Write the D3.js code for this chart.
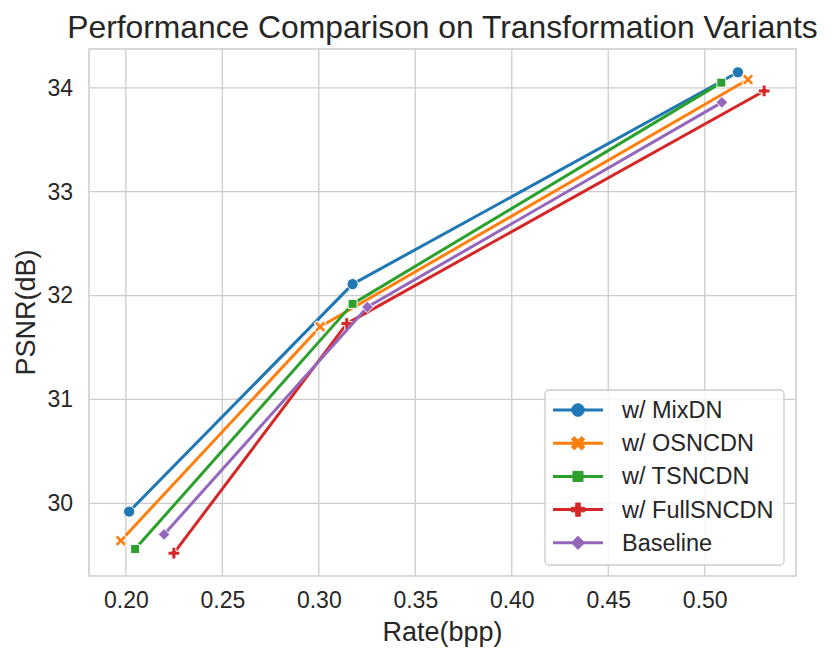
<!DOCTYPE html>
<html>
<head>
<meta charset="utf-8">
<script src="https://cdn.jsdelivr.net/npm/d3@7"></script>
<style>
  body { margin: 0; background: #fff; }
  text { font-family: "Liberation Sans", Arial, sans-serif; fill: #262626; }
</style>
</head>
<body>
<div id="chart"></div>
<script>
// values
const names = ["w/ MixDN", "w/ OSNCDN", "w/ TSNCDN", "w/ FullSNCDN", "Baseline"];
const colors = ["#1f77b4", "#ff7f0e", "#2ca02c", "#d62728", "#9467bd"];
const markers = ["circle", "x", "square", "plus", "diamond"];
const rateMixDN = [0.2017, 0.3175, 0.5172];
const psnrMixDN = [29.92, 32.11, 34.15];
const rateOSNCDN = [0.1974, 0.3007, 0.5224];
const psnrOSNCDN = [29.64, 31.70, 34.08];
const rateTSNCDN = [0.2048, 0.3175, 0.5086];
const psnrTSNCDN = [29.56, 31.92, 34.05];
const rateFull = [0.2249, 0.3145, 0.5308];
const psnrFull = [29.52, 31.73, 33.97];
const rateBase = [0.2198, 0.3252, 0.5089];
const psnrBase = [29.70, 31.89, 33.86];
const xTicks = [0.20, 0.25, 0.30, 0.35, 0.40, 0.45, 0.50];
const yTicks = [30, 31, 32, 33, 34];

const rates = [rateMixDN, rateOSNCDN, rateTSNCDN, rateFull, rateBase];
const psnrs = [psnrMixDN, psnrOSNCDN, psnrTSNCDN, psnrFull, psnrBase];
const series = names.map((name, i) => ({
    name, color: colors[i], marker: markers[i],
    points: rates[i].map((r, j) => ({ rate: r, psnr: psnrs[i][j] }))
}));

const width = 831, height = 661;
const margin = { top: 49, right: 35, bottom: 85, left: 89 };
const svg = d3.select("#chart").append("svg").attr("width", width).attr("height", height);

const x = d3.scaleLinear().domain([0.1809, 0.5473]).range([margin.left, width - margin.right]);
const y = d3.scaleLinear().domain([29.30, 34.374]).range([height - margin.bottom, margin.top]);

// grid
const grid = svg.append("g");
grid.selectAll(".gx").data(xTicks).enter().append("line")
    .attr("x1", d => x(d)).attr("x2", d => x(d))
    .attr("y1", margin.top).attr("y2", height - margin.bottom)
    .attr("stroke", "#cccccc").attr("stroke-width", 1.3);
grid.selectAll(".gy").data(yTicks).enter().append("line")
    .attr("x1", margin.left).attr("x2", width - margin.right)
    .attr("y1", d => y(d)).attr("y2", d => y(d))
    .attr("stroke", "#cccccc").attr("stroke-width", 1.3);

// axes (labels only, whitegrid has no tick marks)
const xAxis = svg.append("g").attr("transform", `translate(0,${height - margin.bottom})`)
    .call(d3.axisBottom(x).tickValues(xTicks).tickFormat(d3.format(".2f")).tickSize(0).tickPadding(16));
const yAxis = svg.append("g").attr("transform", `translate(${margin.left},0)`)
    .call(d3.axisLeft(y).tickValues(yTicks).tickFormat(d3.format("d")).tickSize(0).tickPadding(16));
[xAxis, yAxis].forEach(a => {
    a.select(".domain").remove();
    a.selectAll("text").attr("font-size", 23).attr("fill", "#262626")
        .style("font-family", "'Liberation Sans', Arial, sans-serif");
});

// frame
svg.append("rect")
    .attr("x", margin.left).attr("y", margin.top)
    .attr("width", width - margin.left - margin.right)
    .attr("height", height - margin.top - margin.bottom)
    .attr("fill", "none").attr("stroke", "#cccccc").attr("stroke-width", 1.5);

// marker shapes
function plusPath(r, w) {
    return `M${-w},${-r}L${w},${-r}L${w},${-w}L${r},${-w}L${r},${w}L${w},${w}L${w},${r}L${-w},${r}L${-w},${w}L${-r},${w}L${-r},${-w}L${-w},${-w}Z`;
}
function markerPath(type, s) {
    if (type === "circle") return d3.symbol(d3.symbolCircle, Math.PI * s * s)();
    if (type === "square") return d3.symbol(d3.symbolSquare, (s * 1.6) * (s * 1.6))();
    if (type === "diamond") {
        const r = s * 1.05;
        return `M0,${-r}L${r},0L0,${r}L${-r},0Z`;
    }
    if (type === "plus") return plusPath(s * 1.05, s * 0.36);
    if (type === "x") return plusPath(s * 1.15, s * 0.33);
    return "";
}

const line = d3.line().x(d => x(d.rate)).y(d => y(d.psnr));

series.forEach(s => {
    const g = svg.append("g");
    g.append("path").datum(s.points)
        .attr("d", line).attr("fill", "none")
        .attr("stroke", s.color).attr("stroke-width", 3).attr("stroke-linejoin", "round");
    g.selectAll("path.m").data(s.points).enter().append("path")
        .attr("class", "m")
        .attr("d", markerPath(s.marker, 5.6))
        .attr("transform", d => `translate(${x(d.rate)},${y(d.psnr)})` + (s.marker === "x" ? " rotate(45)" : ""))
        .attr("fill", s.color).attr("stroke", "#fff").attr("stroke-width", 1);
});

// title and axis labels
svg.append("text").attr("x", (margin.left + width - margin.right) / 2).attr("y", 38)
    .attr("text-anchor", "middle").attr("font-size", 31.8).text("Performance Comparison on Transformation Variants");
svg.append("text").attr("x", (margin.left + width - margin.right) / 2).attr("y", 641)
    .attr("text-anchor", "middle").attr("font-size", 27).text("Rate(bpp)");
svg.append("text")
    .attr("transform", `translate(35,${(margin.top + height - margin.bottom) / 2}) rotate(-90)`)
    .attr("text-anchor", "middle").attr("font-size", 27).text("PSNR(dB)");

// legend
const legend = svg.append("g").attr("transform", "translate(545,390)");
legend.append("rect").attr("width", 239).attr("height", 175).attr("rx", 4)
    .attr("fill", "#fff").attr("fill-opacity", 0.8)
    .attr("stroke", "#cccccc").attr("stroke-width", 1.3);
series.forEach((s, i) => {
    const row = legend.append("g").attr("transform", `translate(0,${20 + i * 33.2})`);
    row.append("line").attr("x1", 8).attr("x2", 58)
        .attr("stroke", s.color).attr("stroke-width", 3);
    row.append("path").attr("d", markerPath(s.marker, 6.3))
        .attr("transform", "translate(33,0)" + (s.marker === "x" ? " rotate(45)" : ""))
        .attr("fill", s.color).attr("stroke", s.color).attr("stroke-width", 1);
    row.append("text").attr("x", 77).attr("y", 8).attr("font-size", 23.5).text(s.name);
});
</script>
</body>
</html>
